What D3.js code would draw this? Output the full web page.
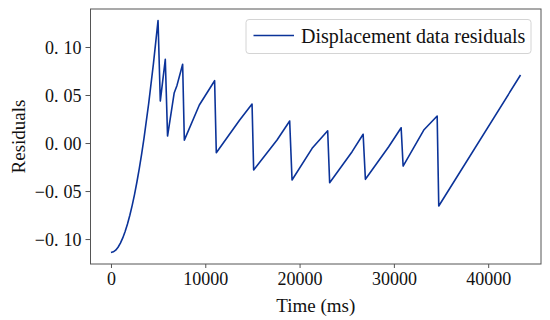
<!DOCTYPE html>
<html>
<head>
<meta charset="utf-8">
<script src="https://cdn.jsdelivr.net/npm/d3@7"></script>
<style>
  html, body { margin: 0; padding: 0; background: #fff; }
  svg { display: block; }
  text { font-family: "Liberation Serif", "Times New Roman", serif; fill: #111; }
</style>
</head>
<body>
<svg id="chart" width="550" height="320"></svg>
<script>
// Data
const timeMs = [0, 250, 500, 750, 1000, 1250, 1500, 1750, 2000, 2250, 2500, 2750,
  3000, 3250, 3500, 4000, 4500, 4990,
  5230, 5760, 6000, 6700, 7000, 7600, 7780, 9370, 10990, 11170, 13650, 14960,
  15130, 17610, 18950, 19200, 21330, 22980, 23190, 25570, 26740, 26980, 29450,
  30770, 30980, 33170, 34590, 34760, 43430];
const residuals = [-0.1139, -0.1133, -0.1116, -0.1085, -0.1043, -0.0988, -0.0922,
  -0.0843, -0.0752, -0.0649, -0.0534, -0.0406, -0.0267, -0.0115, 0.0048, 0.0412,
  0.0825, 0.1275,
  0.0437, 0.0872, 0.0073, 0.052, 0.060, 0.082, 0.003, 0.0396, 0.0649, -0.0101,
  0.024, 0.0406, -0.0281, 0.0031, 0.0229, -0.0385, -0.0055, 0.0128, -0.0414,
  -0.009, 0.0091, -0.0378, -0.0039, 0.0159, -0.024, 0.0135, 0.0281, -0.0656, 0.0708];
const xTicks = [0, 10000, 20000, 30000, 40000];
const yTicks = [-0.10, -0.05, 0.00, 0.05, 0.10];
const seriesName = "Displacement data residuals";

const svg = d3.select("#chart");
const m = { left: 90.5, right: 541, top: 9, bottom: 264 };
const lineColor = "#0b3399";

const xr = d3.extent(timeMs), xpad = (xr[1] - xr[0]) * 0.05;
const yr = d3.extent(residuals), ypad = (yr[1] - yr[0]) * 0.05;
const x = d3.scaleLinear().domain([xr[0] - xpad, xr[1] + xpad]).range([m.left, m.right]);
const y = d3.scaleLinear().domain([yr[0] - ypad, yr[1] + ypad]).range([m.bottom, m.top]);

// line
const data = timeMs.map((t, i) => [t, residuals[i]]);
svg.append("path")
  .datum(data)
  .attr("fill", "none")
  .attr("stroke", lineColor)
  .attr("stroke-width", 1.6)
  .attr("stroke-linejoin", "round")
  .attr("d", d3.line().x(d => x(d[0])).y(d => y(d[1])));

// frame
svg.append("rect")
  .attr("x", m.left).attr("y", m.top)
  .attr("width", m.right - m.left).attr("height", m.bottom - m.top)
  .attr("fill", "none").attr("stroke", "#555").attr("stroke-width", 1);

// x axis
const xAxis = svg.append("g").attr("transform", `translate(0,${m.bottom})`)
  .call(d3.axisBottom(x).tickValues(xTicks).tickFormat(d3.format("d")).tickSize(4).tickPadding(4));
xAxis.select(".domain").remove();
xAxis.selectAll("line").attr("stroke", "#555");
xAxis.selectAll("text").attr("font-size", 18).attr("font-family", "Liberation Serif").attr("fill", "#111");

// y axis
const fmtY = d3.format(".2f");
const yAxis = svg.append("g").attr("transform", `translate(${m.left},0)`)
  .call(d3.axisLeft(y).tickValues(yTicks).tickSize(5).tickPadding(8).tickFormat(""));
yAxis.select(".domain").remove();
yAxis.selectAll("line").attr("stroke", "#555");
yAxis.selectAll(".tick").each(function(d) {
  const s = fmtY(d).replace("-", "\u2212");
  const parts = s.split(".");
  const t = d3.select(this).append("text")
    .attr("x", -9).attr("dy", "0.35em")
    .attr("text-anchor", "end")
    .attr("font-size", 18)
    .attr("font-family", "Liberation Serif")
    .attr("fill", "#111");
  t.append("tspan").text(parts[0] + ".");
  t.append("tspan").attr("dx", 5).text(parts[1]);
});

// axis labels
svg.append("text")
  .attr("x", (m.left + m.right) / 2).attr("y", 312)
  .attr("text-anchor", "middle").attr("font-size", 19)
  .text("Time (ms)");
svg.append("text")
  .attr("transform", `translate(25,${(m.top + m.bottom) / 2}) rotate(-90)`)
  .attr("text-anchor", "middle").attr("font-size", 19)
  .text("Residuals");

// legend
const lg = svg.append("g");
lg.append("rect")
  .attr("x", 246).attr("y", 19.5).attr("width", 285).attr("height", 34)
  .attr("rx", 3).attr("fill", "#fff").attr("fill-opacity", 0.85)
  .attr("stroke", "#d4d4d4").attr("stroke-width", 1);
lg.append("line")
  .attr("x1", 253.5).attr("x2", 294).attr("y1", 35.5).attr("y2", 35.5)
  .attr("stroke", lineColor).attr("stroke-width", 1.6);
lg.append("text")
  .attr("x", 301).attr("y", 42.5).attr("font-size", 20)
  .text(seriesName);
</script>
</body>
</html>
